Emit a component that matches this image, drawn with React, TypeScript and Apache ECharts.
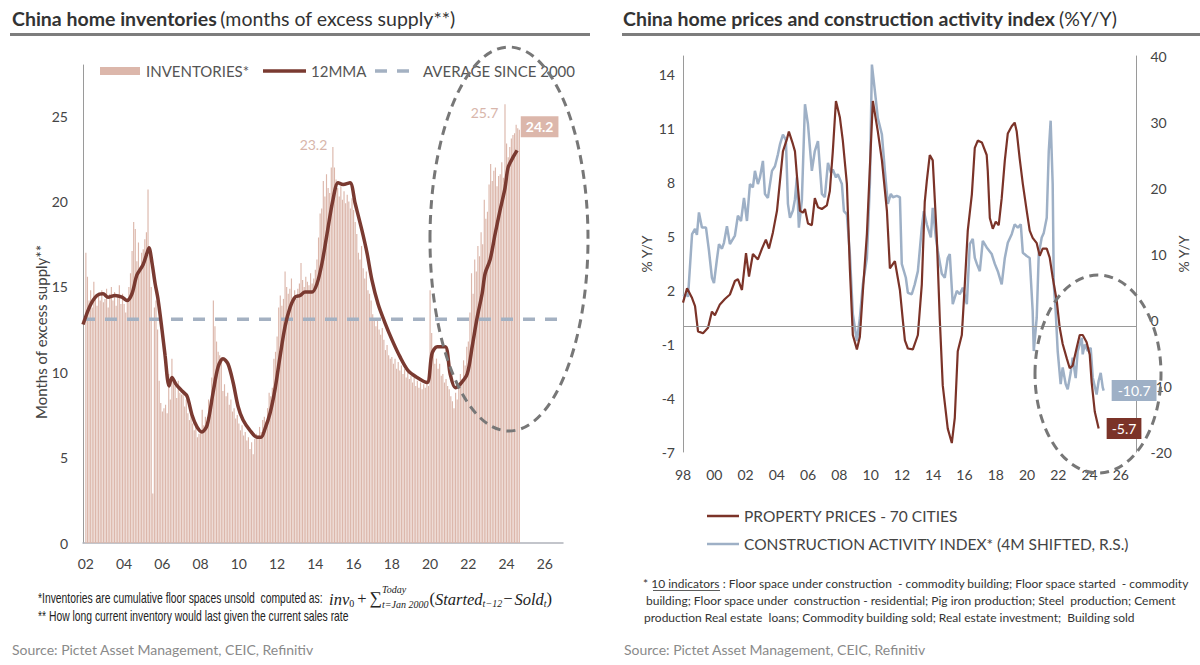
import React, { useEffect, useRef } from "react";
import * as echarts from "echarts";

// ---------- LEFT CHART DATA ----------
const invStartYear = 2002; // monthly bars from Jan 2002
const inventories = [
  17.0, 15.6, 14.2, 14.8, 13.8, 15.3, 14.5, 13.9, 14.6, 14.2, 14.8, 14.1, // 2002
  14.3, 14.9, 13.8, 14.6, 15.0, 14.2, 14.7, 13.9, 14.5, 15.1, 14.0, 14.6, // 2003
  14.0, 13.5, 14.3, 15.0, 15.8, 17.1, 18.8, 18.4, 16.5, 17.6, 15.9, 17.0, // 2004
  17.2, 17.8, 18.2, 20.7, 17.0, 15.0, 2.9, 13.8, 14.2, 12.5, 9.5, 8.2, // 2005
  7.7, 7.9, 8.1, 7.6, 9.9, 8.4, 10.8, 9.7, 9.2, 8.5, 9.5, 8.8, // 2006
  8.7, 8.9, 8.0, 8.4, 7.6, 7.2, 7.8, 7.0, 6.6, 6.9, 6.2, 6.4, // 2007
  6.5, 7.8, 6.9, 7.4, 7.1, 8.4, 8.0, 9.7, 14.2, 12.7, 11.8, 11.2, // 2008
  11.0, 10.6, 8.9, 9.3, 8.6, 8.8, 8.1, 8.4, 7.7, 7.9, 7.3, 7.5, // 2009
  7.0, 6.6, 6.9, 6.3, 6.5, 6.0, 6.2, 5.5, 5.9, 5.2, 6.1, 6.4, // 2010
  6.3, 6.8, 6.5, 7.2, 7.4, 7.1, 7.9, 8.8, 8.6, 9.1, 10.8, 11.2, // 2011
  12.1, 13.8, 14.5, 13.9, 14.3, 15.9, 15.0, 14.6, 14.9, 15.5, 14.4, 14.8, // 2012
  14.3, 14.9, 15.2, 16.4, 15.4, 15.0, 15.6, 15.3, 15.1, 15.8, 15.2, 15.5, // 2013
  16.0, 16.6, 17.9, 19.3, 19.6, 21.2, 20.3, 21.6, 20.8, 20.5, 22.0, 23.2, // 2014
  22.0, 21.3, 20.8, 20.3, 20.9, 20.1, 20.6, 19.9, 20.4, 20.0, 19.6, 20.2, // 2015
  19.5, 18.8, 18.1, 17.0, 16.6, 17.4, 16.1, 15.5, 15.9, 14.8, 14.6, 14.2, // 2016
  13.4, 13.0, 12.7, 13.1, 12.5, 12.2, 12.6, 11.9, 11.3, 11.6, 11.0, 10.8, // 2017
  10.9, 10.5, 10.8, 10.2, 10.6, 10.1, 10.4, 9.9, 10.2, 9.7, 10.0, 9.6, // 2018
  9.8, 9.4, 9.7, 9.2, 9.5, 9.1, 9.4, 9.0, 9.3, 9.1, 9.5, 9.2, // 2019
  14.8, 12.3, 11.2, 10.5, 10.8, 10.2, 10.5, 9.8, 9.9, 9.4, 9.6, 9.2, // 2020
  9.0, 8.6, 8.3, 7.9, 8.8, 8.4, 9.3, 9.9, 9.6, 10.7, 10.4, 11.5, // 2021
  11.8, 13.5, 15.8, 14.6, 16.6, 15.9, 17.4, 16.8, 18.2, 17.5, 20.1, 19.0, // 2022
  19.4, 21.0, 22.2, 21.2, 21.8, 22.0, 20.9, 21.5, 21.6, 22.3, 21.4, 25.7, // 2023
  23.4, 22.6, 23.2, 23.7, 23.9, 24.0, 24.5, 24.3, 24.2, // 2024
];

// 12-month moving average, [year, months]
const ma12: [number, number][] = [
  [2001.85, 12.8], [2002.22, 13.9], [2002.58, 14.5], [2002.9, 14.6], [2003.16, 14.4],
  [2003.52, 14.5], [2003.89, 14.4], [2004.15, 14.2], [2004.41, 14.6], [2004.67, 15.7],
  [2004.99, 16.3], [2005.2, 17.0], [2005.3, 17.3], [2005.46, 16.4], [2005.62, 15.2],
  [2005.77, 14.3], [2005.98, 12.5], [2006.14, 11.0], [2006.35, 9.2], [2006.5, 9.7],
  [2006.71, 9.3], [2007.03, 8.9], [2007.29, 8.6], [2007.55, 7.5], [2007.81, 6.8],
  [2008.07, 6.5], [2008.34, 6.9], [2008.65, 8.8], [2008.91, 10.3], [2009.17, 10.8],
  [2009.43, 10.5], [2009.7, 9.4], [2009.96, 8.0], [2010.22, 7.2], [2010.58, 6.6],
  [2010.95, 6.2], [2011.16, 6.2], [2011.37, 6.7], [2011.63, 7.6], [2011.89, 9.0],
  [2012.15, 10.9], [2012.42, 12.7], [2012.68, 13.8], [2012.94, 14.4], [2013.2, 14.5],
  [2013.46, 14.7], [2013.83, 14.7], [2014.09, 15.2], [2014.35, 16.4], [2014.61, 18.1],
  [2014.92, 20.1], [2015.19, 21.1], [2015.45, 21.0], [2015.81, 21.1], [2016.08, 19.9],
  [2016.44, 18.3], [2016.7, 17.0], [2016.96, 15.4], [2017.28, 14.0], [2017.64, 12.9],
  [2018.01, 11.9], [2018.43, 10.9], [2018.85, 10.1], [2019.32, 9.7], [2019.84, 9.4],
  [2020.1, 11.1], [2020.37, 11.5], [2020.79, 11.5], [2021.05, 9.9], [2021.31, 9.1],
  [2021.57, 9.3], [2021.94, 9.9], [2022.2, 11.5], [2022.46, 13.2], [2022.72, 14.6],
  [2022.88, 15.8], [2023.14, 16.6], [2023.4, 18.1], [2023.66, 19.5], [2023.92, 20.8],
  [2024.08, 22.0], [2024.34, 22.6], [2024.55, 23.0],
];

const avgSince2000 = 13.1;
const leftXTicks = [2002, 2004, 2006, 2008, 2010, 2012, 2014, 2016, 2018, 2020, 2022, 2024, 2026];
const leftYTicks = [0, 5, 10, 15, 20, 25];

// ---------- RIGHT CHART DATA ----------
const propertyPrices: [number, number][] = [
  [1998.0, 1.3], [1998.26, 2.1], [1998.58, 1.55], [1998.77, 1.1], [1998.96, -0.3],
  [1999.28, -0.4], [1999.6, -0.1], [1999.85, 0.8], [2000.04, 0.6], [2000.36, 1.2],
  [2000.68, 1.5], [2001.0, 1.75], [2001.32, 2.5], [2001.51, 2.6], [2001.77, 2.0],
  [2002.03, 4.05], [2002.22, 2.75], [2002.47, 4.0], [2002.79, 3.7], [2003.05, 4.3],
  [2003.3, 4.8], [2003.5, 4.3], [2003.75, 5.2], [2004.01, 6.4], [2004.2, 8.05],
  [2004.39, 9.7], [2004.65, 10.4], [2004.77, 10.8], [2005.03, 10.1], [2005.16, 9.7],
  [2005.28, 8.4], [2005.48, 6.4], [2005.67, 6.3], [2005.8, 6.5], [2005.99, 5.7],
  [2006.24, 5.6], [2006.43, 7.1], [2006.63, 6.6], [2006.88, 6.5], [2007.2, 6.7],
  [2007.39, 7.5], [2007.58, 9.7], [2007.78, 12.5], [2008.03, 11.6], [2008.22, 10.3],
  [2008.48, 7.9], [2008.67, 3.2], [2008.86, -0.5], [2009.12, -1.3], [2009.31, -0.6],
  [2009.5, 1.9], [2009.76, 5.1], [2009.95, 8.8], [2010.14, 12.5], [2010.46, 10.8],
  [2010.72, 9.2], [2011.04, 6.4], [2011.23, 3.2], [2011.55, 3.6], [2011.87, 2.0],
  [2012.06, 0.3], [2012.19, -0.8], [2012.38, -1.25], [2012.7, -1.3], [2013.02, -0.5],
  [2013.27, 2.3], [2013.46, 6.9], [2013.59, 8.05], [2013.78, 9.5], [2013.97, 9.2],
  [2014.23, 4.9], [2014.42, 0.4], [2014.61, -3.3], [2014.93, -5.7], [2015.19, -6.5],
  [2015.38, -5.1], [2015.57, -1.4], [2015.83, -0.5], [2016.02, 2.3], [2016.21, 5.3],
  [2016.47, 7.3], [2016.66, 9.9], [2016.85, 10.3], [2017.11, 10.2], [2017.42, 9.5],
  [2017.49, 8.6], [2017.62, 6.0], [2017.81, 5.4], [2018.0, 5.8], [2018.19, 5.6],
  [2018.38, 7.1], [2018.58, 9.2], [2018.77, 10.7], [2019.02, 11.1], [2019.21, 11.3],
  [2019.34, 10.8], [2019.53, 9.3], [2019.73, 7.9], [2019.98, 6.4], [2020.17, 5.3],
  [2020.36, 4.9], [2020.62, 4.6], [2020.81, 3.9], [2021.0, 4.3], [2021.26, 4.3],
  [2021.45, 3.8], [2021.64, 2.7], [2021.9, 1.4], [2022.09, -0.1], [2022.28, -1.0],
  [2022.54, -1.8], [2022.73, -2.35], [2022.92, -2.2], [2023.18, -1.2], [2023.37, -0.5],
  [2023.56, -0.5], [2023.81, -0.9], [2024.01, -1.6], [2024.13, -3.1], [2024.33, -4.75],
  [2024.58, -5.7],
];

const constructionIndex: [number, number][] = [
  [1998.0, 3.6], [1998.26, 3.9], [1998.32, 3.5], [1998.58, 13.0], [1998.77, 13.8],
  [1998.89, 12.9], [1999.02, 16.3], [1999.21, 14.0], [1999.47, 14.0], [1999.66, 10.5],
  [1999.85, 6.4], [1999.98, 5.6], [2000.17, 9.2], [2000.3, 11.5], [2000.49, 10.8],
  [2000.62, 11.7], [2000.81, 14.2], [2001.0, 11.5], [2001.32, 12.8], [2001.51, 15.8],
  [2001.71, 15.0], [2001.9, 18.5], [2002.09, 15.0], [2002.28, 20.6], [2002.47, 20.1],
  [2002.6, 22.6], [2002.79, 20.6], [2002.92, 21.6], [2003.11, 24.1], [2003.24, 19.1],
  [2003.43, 18.5], [2003.69, 22.6], [2003.88, 23.3], [2004.07, 25.1], [2004.2, 26.6],
  [2004.39, 28.1], [2004.58, 27.3], [2004.71, 17.6], [2004.84, 15.5], [2005.03, 16.6],
  [2005.16, 18.3], [2005.28, 21.6], [2005.41, 14.0], [2005.6, 18.1], [2005.8, 32.7],
  [2005.99, 29.7], [2006.24, 22.6], [2006.43, 25.6], [2006.63, 27.1], [2006.88, 19.1],
  [2007.07, 18.6], [2007.27, 23.8], [2007.46, 22.3], [2007.58, 22.8], [2007.78, 21.6],
  [2007.9, 22.1], [2008.16, 20.6], [2008.29, 16.5], [2008.48, 16.0], [2008.67, 10.0],
  [2008.86, 0.9], [2009.12, -3.2], [2009.31, 0.3], [2009.5, 5.4], [2009.76, 9.4],
  [2009.95, 20.6], [2010.08, 38.7], [2010.27, 34.7], [2010.46, 30.6], [2010.72, 28.1],
  [2010.91, 22.6], [2011.04, 19.1], [2011.1, 17.6], [2011.29, 19.1], [2011.42, 18.6],
  [2011.67, 18.8], [2011.87, 18.6], [2011.99, 8.5], [2012.25, 6.4], [2012.38, 4.1],
  [2012.63, 3.9], [2012.82, 5.4], [2013.02, 7.4], [2013.27, 14.0], [2013.4, 16.5],
  [2013.59, 14.5], [2013.85, 12.5], [2013.97, 17.0], [2014.17, 12.5], [2014.29, 10.5],
  [2014.55, 7.0], [2014.74, 6.4], [2014.93, 9.4], [2015.06, 10.0], [2015.25, 2.4],
  [2015.51, 4.4], [2015.7, 3.9], [2015.89, 4.9], [2016.15, 2.4], [2016.34, 11.5],
  [2016.53, 12.3], [2016.66, 9.4], [2016.79, 8.5], [2016.98, 7.4], [2017.17, 12.0],
  [2017.42, 11.0], [2017.74, 10.0], [2017.94, 8.5], [2018.13, 7.4], [2018.38, 5.4],
  [2018.58, 9.4], [2018.77, 11.7], [2019.02, 13.0], [2019.21, 14.5], [2019.41, 14.0],
  [2019.6, 14.5], [2019.73, 10.2], [2019.98, 9.7], [2020.17, 9.4], [2020.36, 1.4],
  [2020.43, -4.7], [2020.62, 0.35], [2020.75, 10.0], [2020.94, 12.5], [2021.07, 13.2],
  [2021.26, 15.5], [2021.39, 25.6], [2021.51, 30.2], [2021.64, 20.6], [2021.71, 5.4],
  [2021.83, 1.4], [2021.96, -4.7], [2022.15, -9.7], [2022.28, -7.2], [2022.47, -9.7],
  [2022.6, -10.5], [2022.79, -8.0], [2022.92, -5.7], [2023.11, -8.8], [2023.24, -4.7],
  [2023.5, -2.7], [2023.56, -5.2], [2023.69, -3.7], [2023.88, -4.7], [2024.07, -4.2],
  [2024.2, -8.7], [2024.45, -11.3], [2024.58, -9.2], [2024.71, -8.0], [2024.84, -10.2],
  [2024.9, -10.7],
];

const rightXTicks = [1998, 2000, 2002, 2004, 2006, 2008, 2010, 2012, 2014, 2016, 2018, 2020, 2022, 2024, 2026];
const rightLeftYTicks = [-7, -4, -1, 2, 5, 8, 11, 14];
const rightRightYTicks = [-20, -10, 0, 10, 20, 30, 40];

// ---------- STYLE ----------
const FONT = 'Lato, "Open Sans", "Noto Sans", sans-serif';
const NARROW = '"Liberation Sans", Arial, sans-serif';
const SERIF = '"Liberation Serif", "DejaVu Serif", serif';
const barColor = "#dcb7ab";
const maColor = "#7a3a31";
const avgColor = "#a4b1c2";
const priceColor = "#7b3328";
const constrColor = "#9eb0c6";
const axisColor = "#9a9a9a";
const labelColor = "#444";

const yy = (v: number) => String(Math.round(v)).slice(2);

let measureCtx: CanvasRenderingContext2D | null = null;
function measure(text: string, size: number, family: string, italic = false) {
  if (!measureCtx) measureCtx = document.createElement("canvas").getContext("2d");
  if (!measureCtx) return text.length * size * 0.5;
  measureCtx.font = `${italic ? "italic " : ""}${size}px ${family}`;
  return measureCtx.measureText(text).width;
}

function txt(x: number, y: number, text: string, o: any = {}) {
  return {
    type: "text",
    x,
    y,
    z: 50,
    silent: true,
    scaleX: o.scaleX || 1,
    rotation: o.rotation || 0,
    style: {
      text,
      fill: o.fill || "#444",
      fontSize: o.fontSize || 14,
      fontFamily: o.fontFamily || FONT,
      fontWeight: o.fontWeight || "normal",
      fontStyle: o.fontStyle || "normal",
      align: o.align || "left",
      textAlign: o.align || "left",
      verticalAlign: "middle",
      textVerticalAlign: "middle",
      rich: o.rich,
    },
  };
}

// formula: inv_0 + Σ_{t=Jan 2000}^{Today} (Started_{t-12} - Sold_t)
function formulaElements(x0: number, y: number) {
  const big = 16.5;
  const small = 10;
  const col = "#222";
  const els: any[] = [];
  let x = x0;
  const put = (t: string, size: number, italic: boolean, dy: number, advance = true) => {
    els.push(txt(x, y + dy, t, { fontFamily: SERIF, fontSize: size, fontStyle: italic ? "italic" : "normal", fill: col }));
    const w = measure(t, size, SERIF, italic);
    if (advance) x += w;
    return w;
  };
  put("inv", big, true, 1);
  put("0", small, false, 5);
  x += 3;
  put("+", big, false, 0);
  x += 3;
  put("\u2211", big + 1, false, 0);
  const w1 = put("Today", small, true, -9, false);
  const w2 = put("t=Jan 2000", small, true, 6, false);
  x += Math.max(w1, w2) + 1;
  put("(", big, false, 0);
  put("Started", big, true, 1);
  put("t\u221212", small, true, 5);
  x += 1;
  put("\u2212", big, false, 0);
  x += 2;
  put("Sold", big, true, 1);
  put("t", small, true, 5);
  put(")", big, false, 0);
  return els;
}

function buildOption() {
  const maxBefore2020 = Math.max(...inventories.slice(0, 216));
  const idxA = inventories.indexOf(maxBefore2020);
  const maxAll = Math.max(...inventories);
  const idxB = inventories.lastIndexOf(maxAll);
  const idxLast = inventories.length - 1;

  const barData = inventories.map((v, i) => {
    const item: any = { value: [invStartYear + i / 12, v] };
    if (i === idxA) {
      item.label = {
        show: true, formatter: v.toFixed(1), position: [-5, -2], align: "right",
        verticalAlign: "middle", color: "#d8b6ab", fontSize: 14, fontFamily: FONT,
      };
    } else if (i === idxB) {
      item.label = {
        show: true, formatter: v.toFixed(1), position: [-6, 8], align: "right",
        verticalAlign: "middle", color: "#d8b6ab", fontSize: 14, fontFamily: FONT,
      };
    } else if (i === idxLast) {
      item.label = {
        show: true, formatter: v.toFixed(1), position: [2, -3], align: "left",
        verticalAlign: "middle", color: "#fff", fontSize: 14, fontWeight: "bold",
        fontFamily: FONT, backgroundColor: barColor, padding: [4, 5, 3, 5],
      };
    }
    return item;
  });

  const note1 = "*Inventories are cumulative floor spaces unsold  computed as:";
  const noteSize = 14;
  const noteScale = 0.74;
  const note1End = 38 + measure(note1, noteSize, NARROW) * noteScale;

  const titleRich = {
    b: { fontWeight: "bold", fontSize: 19.5, fontFamily: FONT, fill: "#333", color: "#333" },
    n: { fontSize: 19.5, fontFamily: FONT, fill: "#333", color: "#333" },
  };

  const graphic: any[] = [
    // titles and rules
    txt(12, 18, "{b|China home inventories} {n|(months of excess supply**)}", { rich: titleRich }),
    { type: "rect", silent: true, shape: { x: 10, y: 33, width: 580, height: 3 }, style: { fill: "#7d7d7d" } },
    txt(623, 18, "{b|China home prices and construction activity index} {n|(%Y/Y)}", { rich: titleRich }),
    { type: "rect", silent: true, shape: { x: 622, y: 33, width: 578, height: 3 }, style: { fill: "#7d7d7d" } },

    // left legend
    { type: "rect", silent: true, shape: { x: 100, y: 67, width: 40, height: 8 }, style: { fill: barColor } },
    txt(146, 71, "INVENTORIES*", { fill: "#555", fontSize: 15 }),
    { type: "line", silent: true, shape: { x1: 263, y1: 71, x2: 306, y2: 71 }, style: { stroke: maColor, lineWidth: 3.5 } },
    txt(311, 71, "12MMA", { fill: "#555", fontSize: 15 }),
    { type: "line", silent: true, shape: { x1: 375, y1: 71, x2: 412, y2: 71 }, style: { stroke: avgColor, lineWidth: 3.5, lineDash: [12, 10] } },
    txt(423, 71, "AVERAGE SINCE 2000", { fill: "#555", fontSize: 15 }),

    // left y-axis title
    txt(41, 332, "Months of excess supply**", { fontSize: 15, fill: labelColor, align: "center", rotation: Math.PI / 2 }),

    // left footnotes
    txt(38, 598, note1, { fontFamily: NARROW, fontSize: noteSize, fill: "#222", scaleX: noteScale }),
    ...formulaElements(Math.max(note1End + 6, 322), 598),
    txt(38, 616, "** How long current inventory would last given the current sales rate", {
      fontFamily: NARROW, fontSize: noteSize, fill: "#222", scaleX: noteScale,
    }),

    // sources
    txt(12, 649, "Source: Pictet Asset Management, CEIC, Refinitiv", { fontSize: 14, fill: "#8a8a8a" }),
    txt(624, 649, "Source: Pictet Asset Management, CEIC, Refinitiv", { fontSize: 14, fill: "#8a8a8a" }),

    // right legend
    { type: "line", silent: true, shape: { x1: 707, y1: 516, x2: 739, y2: 516 }, style: { stroke: priceColor, lineWidth: 2.5 } },
    txt(744, 516, "PROPERTY PRICES - 70 CITIES", { fontSize: 15.5, fill: "#444" }),
    { type: "line", silent: true, shape: { x1: 707, y1: 544, x2: 739, y2: 544 }, style: { stroke: constrColor, lineWidth: 2.5 } },
    txt(744, 544, "CONSTRUCTION ACTIVITY INDEX* (4M SHIFTED, R.S.)", { fontSize: 15.5, fill: "#444" }),

    // right footnotes
    txt(643, 583, "* 10 indicators : Floor space under construction  - commodity building; Floor space started  - commodity", { fontSize: 12, fill: "#333" }),
    { type: "line", silent: true, shape: { x1: 653, y1: 590.5, x2: 720, y2: 590.5 }, style: { stroke: "#333", lineWidth: 0.8 } },
    txt(646, 600, "building; Floor space under  construction - residential; Pig iron production; Steel  production; Cement", { fontSize: 12, fill: "#333" }),
    txt(644, 617, "production Real estate  loans; Commodity building sold; Real estate investment;  Building sold", { fontSize: 12, fill: "#333" }),

    // highlight ellipses
    { type: "ellipse", silent: true, z: 60, shape: { cx: 509, cy: 239, rx: 79, ry: 192 }, style: { fill: "none", stroke: "#777", lineWidth: 3, lineDash: [9, 6] } },
    { type: "ellipse", silent: true, z: 60, shape: { cx: 1098, cy: 374, rx: 63, ry: 99 }, style: { fill: "none", stroke: "#777", lineWidth: 3, lineDash: [9, 6] } },
  ];

  const axisLabelBase = { color: labelColor, fontSize: 14, fontFamily: FONT };

  return {
    animation: false,
    backgroundColor: "#fff",
    textStyle: { fontFamily: FONT },
    grid: [
      { left: 83, top: 65, width: 480, height: 478 },
      { left: 683, top: 56, width: 453.5, height: 396 },
    ],
    xAxis: [
      {
        gridIndex: 0, type: "value", min: 2001.85, max: 2026.95,
        axisLine: { show: true, onZero: false, lineStyle: { color: "#b0b3bb", width: 1.5 } },
        axisTick: { show: false }, splitLine: { show: false },
        axisLabel: { ...axisLabelBase, margin: 13, customValues: leftXTicks, formatter: yy },
      },
      {
        gridIndex: 1, type: "value", min: 1998, max: 2027,
        axisLine: { show: false }, axisTick: { show: false }, splitLine: { show: false },
        axisLabel: { ...axisLabelBase, margin: 15, customValues: rightXTicks, formatter: yy },
      },
    ],
    yAxis: [
      {
        gridIndex: 0, type: "value", min: 0, max: 28,
        axisLine: { show: true, lineStyle: { color: axisColor, width: 1 } },
        axisTick: { show: false }, splitLine: { show: false },
        axisLabel: { ...axisLabelBase, margin: 15, customValues: leftYTicks },
      },
      {
        gridIndex: 1, type: "value", min: -7, max: 15,
        axisLine: { show: true, onZero: false, lineStyle: { color: axisColor, width: 1 } },
        axisTick: { show: false }, splitLine: { show: false },
        axisLabel: { ...axisLabelBase, margin: 8, customValues: rightLeftYTicks },
        name: "% Y/Y", nameLocation: "middle", nameGap: 30, nameRotate: 90,
        nameTextStyle: { color: labelColor, fontSize: 14, fontFamily: FONT },
      },
      {
        gridIndex: 1, type: "value", position: "right", min: -20, max: 40,
        axisLine: { show: true, onZero: false, lineStyle: { color: axisColor, width: 1 } },
        axisTick: { show: false }, splitLine: { show: false },
        axisLabel: { ...axisLabelBase, margin: 14, customValues: rightRightYTicks },
        name: "% Y/Y", nameLocation: "middle", nameGap: 40, nameRotate: 90,
        nameTextStyle: { color: labelColor, fontSize: 14, fontFamily: FONT },
      },
    ],
    series: [
      {
        name: "INVENTORIES*", type: "bar", xAxisIndex: 0, yAxisIndex: 0,
        data: barData, barWidth: 1.15, silent: true,
        itemStyle: { color: barColor },
      },
      {
        name: "AVERAGE SINCE 2000", type: "line", xAxisIndex: 0, yAxisIndex: 0,
        data: [[2001.85, avgSince2000], [2026.9, avgSince2000]],
        symbol: "none", silent: true,
        lineStyle: { color: avgColor, width: 3.5, type: [12, 10] },
      },
      {
        name: "12MMA", type: "line", xAxisIndex: 0, yAxisIndex: 0,
        data: ma12, symbol: "none", smooth: 0.3, silent: true,
        lineStyle: { color: maColor, width: 3.5 },
      },
      {
        name: "CONSTRUCTION ACTIVITY INDEX* (4M SHIFTED, R.S.)", type: "line",
        xAxisIndex: 1, yAxisIndex: 2, data: constructionIndex, symbol: "none", silent: true,
        lineStyle: { color: constrColor, width: 2.5 },
        endLabel: {
          show: true, formatter: (p: any) => p.value[1].toFixed(1), color: "#fff",
          backgroundColor: constrColor, padding: [4, 6, 3, 6], distance: 8,
          fontSize: 14, fontFamily: FONT,
        },
      },
      {
        name: "PROPERTY PRICES - 70 CITIES", type: "line",
        xAxisIndex: 1, yAxisIndex: 1, data: propertyPrices, symbol: "none", silent: true,
        lineStyle: { color: priceColor, width: 2.2 },
        endLabel: {
          show: true, formatter: (p: any) => p.value[1].toFixed(1), color: "#fff",
          backgroundColor: priceColor, padding: [4, 5, 3, 5], distance: 8,
          fontSize: 14, fontFamily: FONT,
        },
        markLine: {
          silent: true, symbol: "none", label: { show: false },
          lineStyle: { color: "#9a9a9a", width: 1, type: "solid" },
          data: [{ yAxis: 0 }],
        },
      },
    ],
    graphic,
  };
}

export default function App() {
  const ref = useRef<HTMLDivElement>(null);
  useEffect(() => {
    if (!ref.current) return;
    const chart = echarts.init(ref.current, null, { renderer: "svg" });
    chart.setOption(buildOption() as any);
    return () => chart.dispose();
  }, []);
  return (
    <div
      ref={ref}
      style={{ position: "fixed", left: 0, top: 0, width: 1200, height: 665, background: "#fff" }}
    />
  );
}
